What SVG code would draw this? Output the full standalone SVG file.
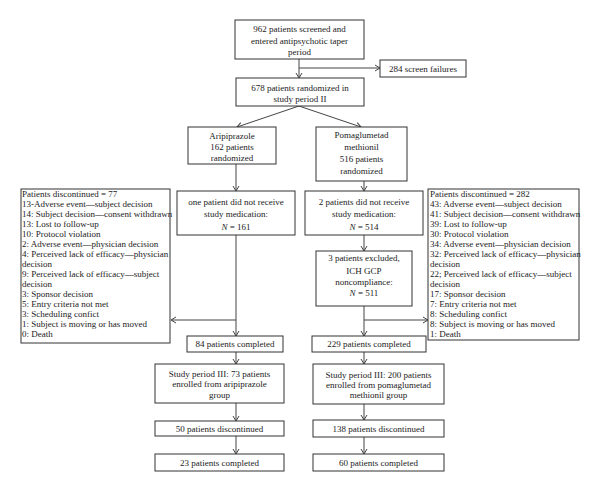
<svg xmlns="http://www.w3.org/2000/svg" width="600" height="492" viewBox="0 0 600 492">
<defs>
<style>
rect{fill:#fff;stroke:#333;stroke-width:1}
text{font-family:"Liberation Serif","Times New Roman",serif;font-size:9px;fill:#222}
.c{text-anchor:middle}
.l line,.l polyline{stroke:#444;stroke-width:1;fill:none}
</style>
<marker id="ah" markerWidth="8" markerHeight="8" refX="6" refY="4" orient="auto" markerUnits="userSpaceOnUse">
<polyline points="1,1 6,4 1,7" fill="none" stroke="#444" stroke-width="1"/>
</marker>
</defs>
<rect x="0" y="0" width="600" height="492" style="fill:#fff;stroke:none"/>
<g class="l" id="connectors">
<line x1="299" y1="59" x2="299" y2="78" marker-end="url(#ah)"/>
<line x1="299" y1="68" x2="380" y2="68" marker-end="url(#ah)"/>
<line x1="299" y1="106" x2="237" y2="127" marker-end="url(#ah)"/>
<line x1="299" y1="106" x2="361" y2="127" marker-end="url(#ah)"/>
<line x1="236" y1="164" x2="236" y2="191" marker-end="url(#ah)"/>
<line x1="364" y1="181" x2="364" y2="191" marker-end="url(#ah)"/>
<line x1="236" y1="235" x2="236" y2="336" marker-end="url(#ah)"/>
<line x1="236" y1="320" x2="171" y2="320" marker-end="url(#ah)"/>
<line x1="364" y1="235" x2="364" y2="251" marker-end="url(#ah)"/>
<line x1="364" y1="306" x2="364" y2="336" marker-end="url(#ah)"/>
<line x1="364" y1="320" x2="428" y2="320" marker-end="url(#ah)"/>
<line x1="236" y1="352" x2="236" y2="364" marker-end="url(#ah)"/>
<line x1="236" y1="403" x2="236" y2="421" marker-end="url(#ah)"/>
<line x1="236" y1="436" x2="236" y2="454" marker-end="url(#ah)"/>
<line x1="364" y1="352" x2="364" y2="364" marker-end="url(#ah)"/>
<line x1="364" y1="404" x2="364" y2="420" marker-end="url(#ah)"/>
<line x1="364" y1="437" x2="364" y2="454" marker-end="url(#ah)"/>
</g>
<g id="screened">
<rect x="235" y="20" width="129" height="39"/>
<text class="c" x="299.5" y="32">962 patients screened and</text>
<text class="c" x="299.5" y="44">entered antipsychotic taper</text>
<text class="c" x="299.5" y="55">period</text>
</g>
<g id="failures">
<rect x="380" y="60" width="86" height="17"/>
<text class="c" x="423" y="71.5">284 screen failures</text>
</g>
<g id="randomized">
<rect x="236" y="78" width="128" height="28"/>
<text class="c" x="300" y="91">678 patients randomized in</text>
<text class="c" x="300" y="102">study period II</text>
</g>
<g id="aripiprazole">
<rect x="188" y="127" width="88" height="37"/>
<text class="c" x="232" y="139">Aripiprazole</text>
<text class="c" x="232" y="150">162 patients</text>
<text class="c" x="232" y="161">randomized</text>
</g>
<g id="pomaglumetad">
<rect x="316" y="127" width="91" height="54"/>
<text class="c" x="361.5" y="138">Pomaglumetad</text>
<text class="c" x="361.5" y="150">methionil</text>
<text class="c" x="361.5" y="162">516 patients</text>
<text class="c" x="361.5" y="174">randomized</text>
</g>
<g id="ari-med">
<rect x="177" y="191" width="118" height="44"/>
<text class="c" x="236" y="205">one patient did not receive</text>
<text class="c" x="236" y="217">study medication:</text>
<text class="c" x="236" y="230"><tspan font-style="italic">N</tspan> = 161</text>
</g>
<g id="pom-med">
<rect x="305" y="191" width="118" height="44"/>
<text class="c" x="364" y="205">2 patients did not receive</text>
<text class="c" x="364" y="217">study medication:</text>
<text class="c" x="364" y="230"><tspan font-style="italic">N</tspan> = 514</text>
</g>
<g id="pom-excluded">
<rect x="316" y="251" width="96" height="55"/>
<text class="c" x="364" y="261">3 patients excluded,</text>
<text class="c" x="364" y="274">ICH GCP</text>
<text class="c" x="364" y="285">noncompliance:</text>
<text class="c" x="364" y="296"><tspan font-style="italic">N</tspan> = 511</text>
</g>
<g id="ari-disc">
<rect x="21" y="189" width="149" height="154"/>
<text x="22" y="197">Patients discontinued = 77</text>
<text x="22" y="207">13-Adverse event—subject decision</text>
<text x="22" y="217">14: Subject decision—consent withdrawn</text>
<text x="22" y="227">13: Lost to follow-up</text>
<text x="22" y="237">10: Protocol violation</text>
<text x="22" y="247">2: Adverse event—physician decision</text>
<text x="22" y="257">4: Perceived lack of efficacy—physician</text>
<text x="22" y="267">decision</text>
<text x="22" y="277">9: Perceived lack of efficacy—subject</text>
<text x="22" y="287">decision</text>
<text x="22" y="297">3: Sponsor decision</text>
<text x="22" y="307">5: Entry criteria not met</text>
<text x="22" y="317">3: Scheduling confict</text>
<text x="22" y="327">1: Subject is moving or has moved</text>
<text x="22" y="337">0: Death</text>
</g>
<g id="pom-disc">
<rect x="428" y="189" width="151" height="151"/>
<text x="430" y="197">Patients discontinued = 282</text>
<text x="430" y="207">43: Adverse event—subject decision</text>
<text x="430" y="217">41: Subject decision—consent withdrawn</text>
<text x="430" y="227">39: Lost to follow-up</text>
<text x="430" y="237">30: Protocol violation</text>
<text x="430" y="247">34: Adverse event—physician decision</text>
<text x="430" y="257">32: Perceived lack of efficacy—physician</text>
<text x="430" y="267">decision</text>
<text x="430" y="277">22; Perceived lack of efficacy—subject</text>
<text x="430" y="287">decision</text>
<text x="430" y="297">17: Sponsor decision</text>
<text x="430" y="307">7: Entry criteria not met</text>
<text x="430" y="317">8: Scheduling confict</text>
<text x="430" y="327">8: Subject is moving or has moved</text>
<text x="430" y="337">1: Death</text>
</g>
<g id="ari-completed">
<rect x="187" y="336" width="96" height="16"/>
<text class="c" x="235" y="347">84 patients completed</text>
</g>
<g id="pom-completed">
<rect x="312" y="336" width="114" height="16"/>
<text class="c" x="369" y="347">229 patients completed</text>
</g>
<g id="ari-sp3">
<rect x="155" y="364" width="129" height="39"/>
<text class="c" x="219.5" y="377">Study period III: 73 patients</text>
<text class="c" x="219.5" y="387">enrolled from aripiprazole</text>
<text class="c" x="219.5" y="398">group</text>
</g>
<g id="pom-sp3">
<rect x="313" y="364" width="131" height="40"/>
<text class="c" x="378.5" y="378">Study period III: 200 patients</text>
<text class="c" x="378.5" y="388">enrolled from pomaglumetad</text>
<text class="c" x="378.5" y="398">methionil group</text>
</g>
<g id="ari-disc3">
<rect x="155" y="421" width="129" height="15"/>
<text class="c" x="219.5" y="431.5">50 patients discontinued</text>
</g>
<g id="pom-disc3">
<rect x="313" y="420" width="131" height="17"/>
<text class="c" x="378.5" y="431.5">138 patients discontinued</text>
</g>
<g id="ari-final">
<rect x="155" y="454" width="129" height="17"/>
<text class="c" x="219.5" y="465.5">23 patients completed</text>
</g>
<g id="pom-final">
<rect x="313" y="454" width="131" height="17"/>
<text class="c" x="378.5" y="465.5">60 patients completed</text>
</g>
</svg>
